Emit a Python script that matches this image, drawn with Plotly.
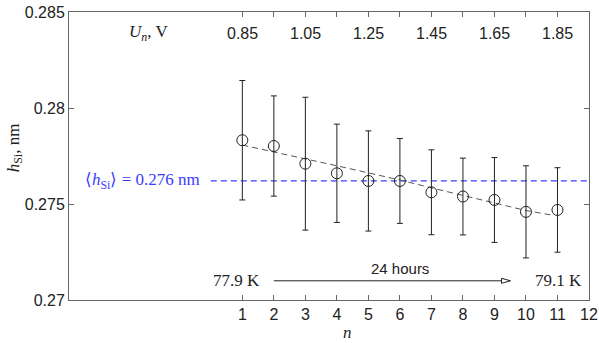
import plotly.graph_objects as go

# measured points
n = [1, 2, 3, 4, 5, 6, 7, 8, 9, 10, 11]
h_si = [0.27832, 0.27802, 0.27710, 0.27660, 0.27620, 0.27620, 0.27561, 0.27539, 0.27521, 0.27459, 0.27469]
h_err = [0.00311, 0.00261, 0.00346, 0.00256, 0.00261, 0.00221, 0.00221, 0.00200, 0.00221, 0.00240, 0.00220]

# trend curve
fit_n = [1, 2, 3, 4, 5, 6, 7, 8, 9, 10, 10.9]
fit_h = [0.27807, 0.27772, 0.27736, 0.27699, 0.27662, 0.27625, 0.27584, 0.27545, 0.27505, 0.27466, 0.27440]

# mean value line
mean_n = [0, 12]
mean_h = [0.2762, 0.2762]

# top axis (voltage)
u_pos = [1, 3, 5, 7, 9, 11]
u_labels = ['0.85', '1.05', '1.25', '1.45', '1.65', '1.85']

x_ticks = list(range(1, 13))
y_ticks = [0.27, 0.275, 0.28, 0.285]
y_labels = ['0.27', '0.275', '0.28', '0.285']

serif = 'Liberation Serif'
sans = 'Liberation Sans'
blue = '#3b3bff'
ink = '#222222'

fig = go.Figure()

fig.add_trace(go.Scatter(x=mean_n, y=mean_h, mode='lines',
                         line=dict(color=blue, width=1.2, dash='6px,4px'),
                         showlegend=False))
fig.add_trace(go.Scatter(x=fit_n, y=fit_h, mode='lines',
                         line=dict(color='#555555', width=1, dash='6px,4px'),
                         showlegend=False))
fig.add_trace(go.Scatter(x=n, y=h_si, mode='markers',
                         marker=dict(symbol='circle-open', size=11, color=ink,
                                     line=dict(width=1, color=ink)),
                         error_y=dict(type='data', array=h_err, color=ink,
                                      thickness=1, width=3),
                         showlegend=False))

fig.update_xaxes(range=[-4.5, 12], tickvals=x_ticks, ticks='inside', ticklen=5,
                 showline=True, linecolor='#666666', linewidth=1, mirror='allticks',
                 tickcolor='#666666', showgrid=False, zeroline=False, automargin=False,
                 tickfont=dict(family=sans, size=16, color=ink))
fig.update_yaxes(range=[0.27, 0.285], tickvals=y_ticks, ticktext=y_labels,
                 ticks='inside', ticklen=5, showline=True, linecolor='#666666',
                 linewidth=1, mirror='allticks', tickcolor='#666666',
                 showgrid=False, zeroline=False, automargin=False,
                 tickfont=dict(family=sans, size=16, color=ink))

fig.add_annotation(x=-0.104, y=0.53, xref='paper', yref='paper', textangle=-90,
                   xanchor='center', yanchor='middle',
                   text='<i>h</i><sub>Si</sub>, nm', showarrow=False,
                   font=dict(family=serif, size=17, color=ink))

for xp, lab in zip(u_pos, u_labels):
    fig.add_annotation(x=xp, y=0.927, xref='x', yref='paper', text=lab,
                       xanchor='center', yanchor='middle',
                       showarrow=False, font=dict(family=sans, size=16, color=ink))

fig.add_annotation(x=-1.97, y=0.927, xref='x', yref='paper',
                   xanchor='center', yanchor='middle',
                   text='<i>U</i><sub><i>n</i></sub>, V', showarrow=False,
                   font=dict(family=serif, size=17, color=ink))

fig.add_annotation(x=0.535, y=-0.112, xref='paper', yref='paper', text='<i>n</i>',
                   xanchor='center', yanchor='middle',
                   showarrow=False, font=dict(family=serif, size=17, color=ink))

fig.add_annotation(x=-0.28, y=0.2762, xref='x', yref='y', xanchor='right',
                   text='⟨<i>h</i><sub>Si</sub>⟩ = 0.276 nm', showarrow=False,
                   font=dict(family=serif, size=17, color=blue))

# time arrow
fig.add_shape(type='line', x0=2, x1=9.3, y0=0.271, y1=0.271,
              line=dict(color=ink, width=1))
fig.add_shape(type='path', xref='x', yref='y', xsizemode='pixel', ysizemode='pixel',
              xanchor=9.51, yanchor=0.271, path='M0,0 L-9,2.5 L-9,-2.5 Z',
              fillcolor='white', line=dict(color=ink, width=1))
fig.add_annotation(x=1.63, y=0.271, xref='x', yref='y', xanchor='right',
                   text='77.9 K', showarrow=False,
                   font=dict(family=serif, size=17, color=ink))
fig.add_annotation(x=10.23, y=0.271, xref='x', yref='y', xanchor='left',
                   text='79.1 K', showarrow=False,
                   font=dict(family=serif, size=17, color=ink))
fig.add_annotation(x=6, y=0.27163, xref='x', yref='y', text='24 hours',
                   showarrow=False, font=dict(family=sans, size=15, color=ink))

fig.update_layout(width=599, height=343,
                  margin=dict(l=69, r=10, t=12, b=43),
                  plot_bgcolor='white', paper_bgcolor='white')

# drop the default page margin so the figure fills the window
fig.write_html('out.html', config={'displayModeBar': False},
               post_script="document.body.style.margin='0';")
